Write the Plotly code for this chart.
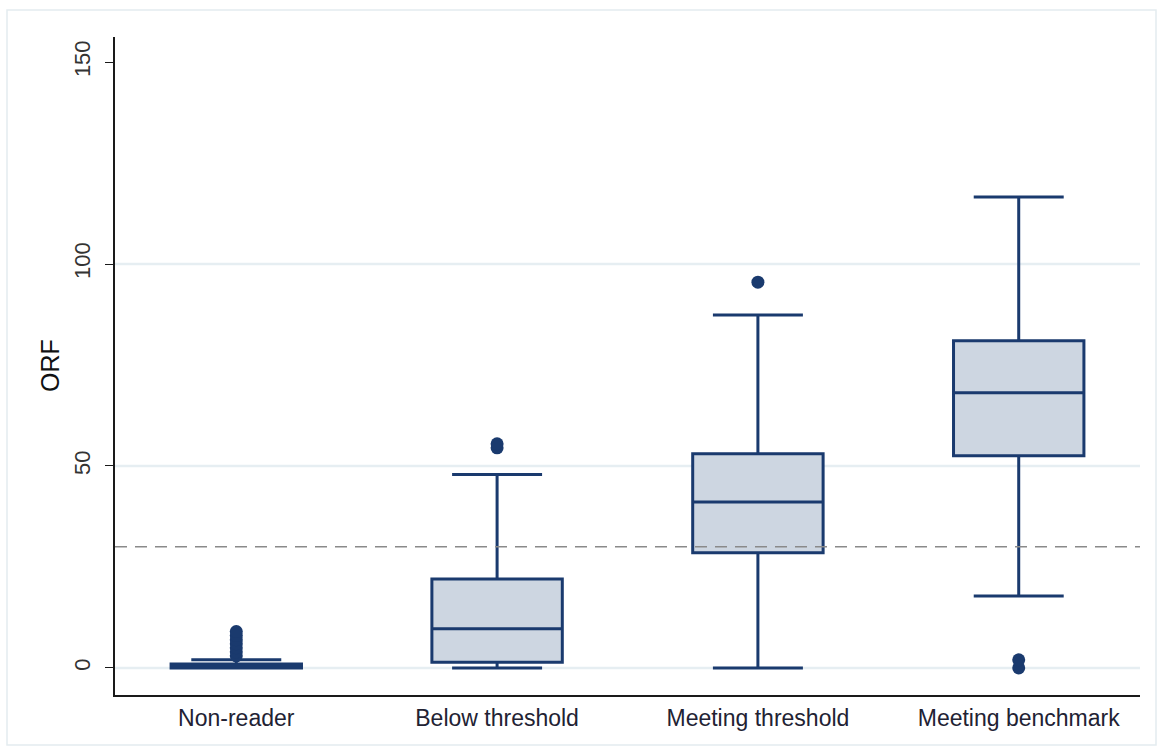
import plotly.graph_objects as go

# Reading-level groups and ORF (oral reading fluency) summary statistics
categories = ["Non-reader", "Below threshold", "Meeting threshold", "Meeting benchmark"]
lower_whisker = [0, 0, 0, 17.8]
q1 = [0, 1.4, 28.5, 52.5]
median = [0, 9.7, 41.1, 68.1]
q3 = [1, 22.0, 53.0, 81.0]
upper_whisker = [2, 47.9, 87.4, 116.6]

# Outlying observations per group
outliers = {
    "Non-reader": [3, 4, 5, 6, 7, 8, 9],
    "Below threshold": [54.5, 55.5],
    "Meeting threshold": [95.5],
    "Meeting benchmark": [0, 2],
}

benchmark_line = 30
grid_values = [0, 50, 100]
y_ticks = [0, 50, 100, 150]

NAVY = "#1a3a6e"
FILL = "#cdd6e1"

fig = go.Figure()

fig.add_trace(go.Box(
    x=categories,
    q1=q1, median=median, q3=q3,
    lowerfence=lower_whisker, upperfence=upper_whisker,
    width=0.5, whiskerwidth=0.69,
    line=dict(color=NAVY, width=3),
    fillcolor=FILL,
    boxpoints=False,
    showlegend=False,
    hoverinfo="skip",
))

ox, oy = [], []
for cat in categories:
    for v in outliers[cat]:
        ox.append(cat)
        oy.append(v)

fig.add_trace(go.Scatter(
    x=ox, y=oy, mode="markers",
    marker=dict(color=NAVY, size=13, line=dict(width=0)),
    showlegend=False, hoverinfo="skip",
))

shapes = []
for g in grid_values:
    shapes.append(dict(type="line", xref="paper", yref="y", x0=0, x1=1, y0=g, y1=g,
                       line=dict(color="#e6eef2", width=2.5), layer="below"))
shapes.append(dict(type="line", xref="paper", yref="y", x0=0, x1=1,
                   y0=benchmark_line, y1=benchmark_line,
                   line=dict(color="#8a8a8a", width=1.3, dash="12px,8px"), layer="above"))
# light outer frame around the graph region
L, R, T, B = 115, 1140, 37, 695
W, H = R - L, B - T
shapes.append(dict(type="rect", xref="paper", yref="paper",
                   x0=(7 - L) / W, x1=(1156 - L) / W,
                   y0=(B - 745) / H, y1=(B - 10) / H,
                   line=dict(color="#e4ecef", width=1.5), layer="below"))

fig.update_layout(
    width=1162, height=749,
    margin=dict(l=L, r=1162 - R, t=T, b=749 - B),
    paper_bgcolor="white", plot_bgcolor="white",
    font=dict(family="Liberation Sans, Arial, sans-serif", color="#222222"),
    shapes=shapes,
    annotations=[dict(text="ORF", xref="paper", yref="paper", x=0, y=0.5,
                      xanchor="center", yanchor="middle", xshift=-65,
                      textangle=-90, showarrow=False,
                      font=dict(size=25, color="#111111"))],
    xaxis=dict(
        type="category", categoryorder="array", categoryarray=categories,
        range=[-0.465, 3.465],
        showline=True, linecolor="#1a1a1a", linewidth=1.5, mirror=False,
        showgrid=False, zeroline=False, ticks="",
        tickfont=dict(size=23, color="#222233"),
        ticklabelstandoff=2,
    ),
    yaxis=dict(
        range=[-6.7, 156.2],
        tickvals=y_ticks, ticktext=[str(t) for t in y_ticks],
        tickangle=-90,
        showline=True, linecolor="#1a1a1a", linewidth=1.5,
        showgrid=False, zeroline=False,
        ticks="outside", ticklen=8, tickwidth=1.3, tickcolor="#1a1a1a",
        tickfont=dict(size=22, color="#333333"),
        ticklabelstandoff=6,
    ),
)

fig.write_html("out.html")
